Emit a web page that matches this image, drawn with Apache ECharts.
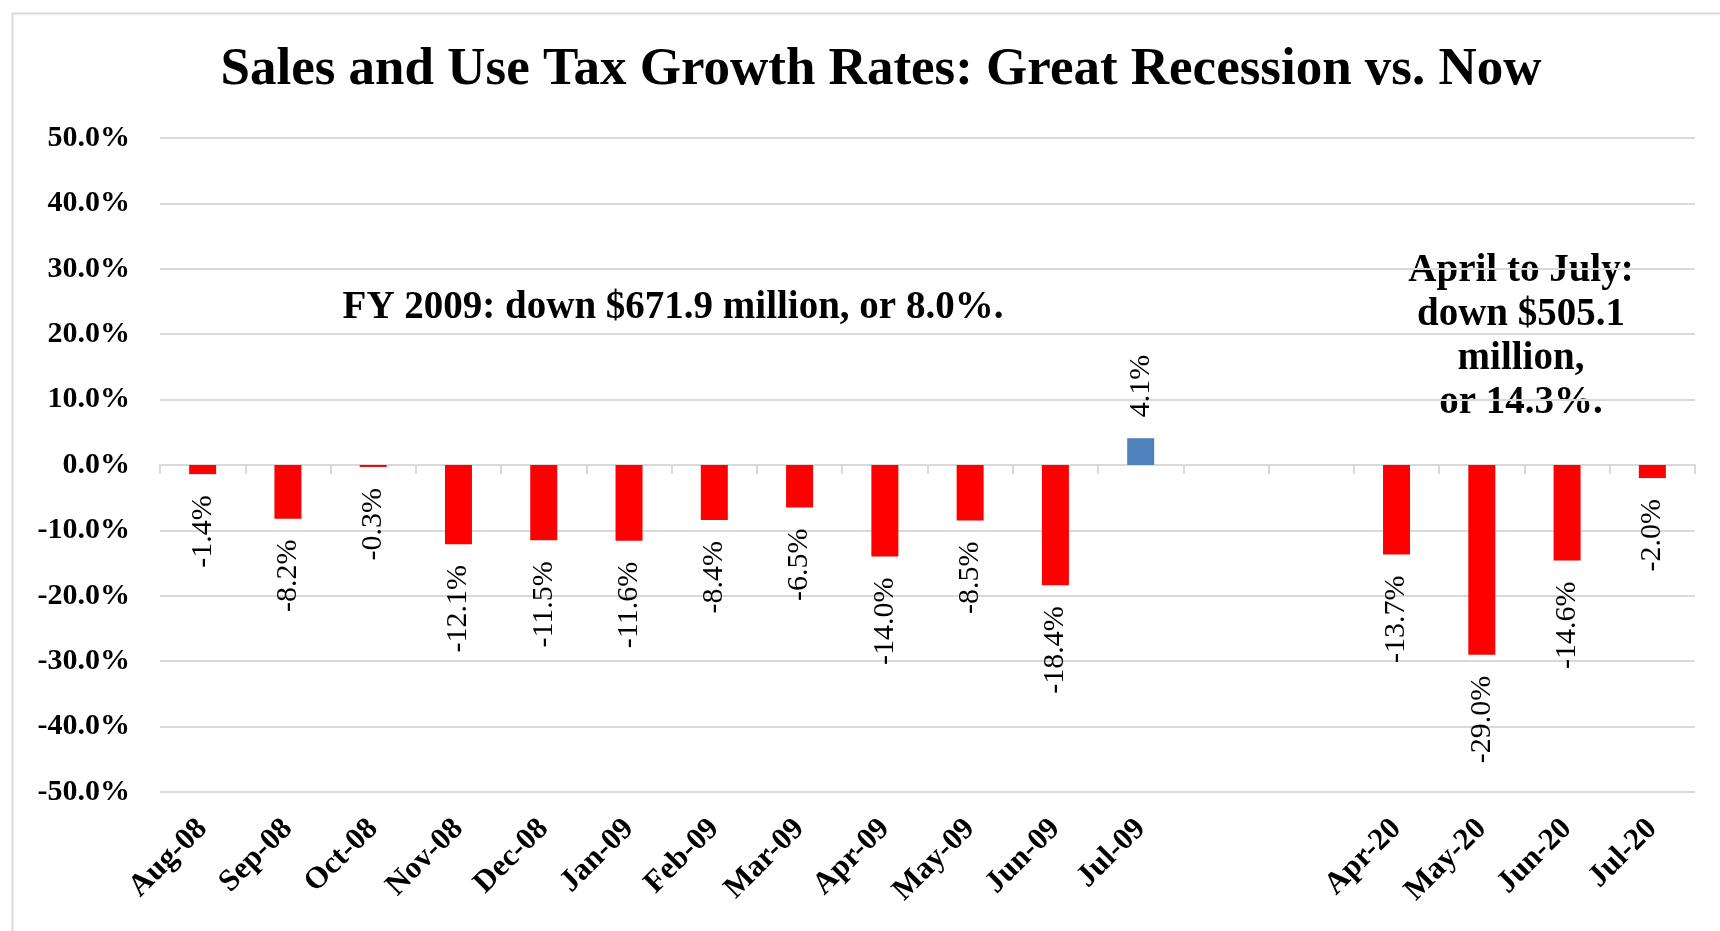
<!DOCTYPE html>
<html>
<head>
<meta charset="utf-8">
<script src="https://cdn.jsdelivr.net/npm/echarts@6/dist/echarts.min.js"></script>
<style>
html,body{margin:0;padding:0;background:#fff;}
#chart{width:1720px;height:931px;}
</style>
</head>
<body>
<div id="chart"></div>
<script>
const categories = ['Aug-08','Sep-08','Oct-08','Nov-08','Dec-08','Jan-09','Feb-09','Mar-09','Apr-09','May-09','Jun-09','Jul-09',' ','  ','Apr-20','May-20','Jun-20','Jul-20'];
const growthRates = [-1.4,-8.2,-0.3,-12.1,-11.5,-11.6,-8.4,-6.5,-14.0,-8.5,-18.4,4.1,null,null,-13.7,-29.0,-14.6,-2.0];
const yTicks = {min:-50, max:50, interval:10};
const titleText = 'Sales and Use Tax Growth Rates: Great Recession vs. Now';
const noteFY2009 = 'FY 2009: down $671.9 million, or 8.0%.';
const noteNow = ['April to July:','down $505.1','million,','or 14.3%.'];

const SERIF = '"Liberation Serif", "DejaVu Serif", serif';
const RED = '#ff0000', BLUE = '#4f81bd', GRID = '#d9d9d9';

const chart = echarts.init(document.getElementById('chart'), null, {renderer:'canvas'});

const seriesData = growthRates.map(v => v === null ? '-' : ({
  value: v,
  label: { align: v >= 0 ? 'left' : 'right' }
}));

chart.setOption({
  backgroundColor: '#ffffff',
  animation: false,
  title: {
    text: titleText,
    left: 876, top: 39, textAlign: 'center',
    textStyle: { fontFamily: SERIF, fontWeight: 'bold', fontSize: 53, color: '#000' }
  },
  grid: { left: 160, right: 25, top: 138, bottom: 139, containLabel: false },
  xAxis: [
    {
      type: 'category', data: categories, position: 'bottom',
      axisLine: { onZero: true, lineStyle: { color: GRID, width: 2 } },
      axisTick: { show: true, length: 9, alignWithLabel: false, lineStyle: { color: GRID, width: 2 } },
      axisLabel: { show: false },
      splitLine: { show: false }
    },
    {
      type: 'category', data: categories, position: 'bottom',
      axisLine: { show: false, onZero: false },
      axisTick: { show: false },
      axisLabel: {
        show: true, rotate: 45, margin: 32, interval: 0,
        fontFamily: SERIF, fontWeight: 'bold', fontSize: 31, color: '#000'
      },
      splitLine: { show: false }
    }
  ],
  yAxis: {
    type: 'value', min: yTicks.min, max: yTicks.max, interval: yTicks.interval,
    axisLine: { show: false }, axisTick: { show: false },
    axisLabel: {
      margin: 30, fontFamily: SERIF, fontWeight: 'bold', fontSize: 30, color: '#000',
      formatter: v => v.toFixed(1) + '%'
    },
    splitLine: { lineStyle: { color: GRID, width: 2 } }
  },
  series: [{
    type: 'bar', xAxisIndex: 0, data: seriesData, barWidth: 27,
    itemStyle: { color: p => (p.value >= 0 ? BLUE : RED) },
    label: {
      show: true, position: 'outside', rotate: 90, distance: 21, verticalAlign: 'middle',
      fontFamily: SERIF, fontSize: 30, color: '#000',
      formatter: p => p.value.toFixed(1) + '%'
    }
  }],
  graphic: [
    { type: 'rect', left: 10, top: 11, z: -10, silent: true,
      shape: { width: 1720, height: 919 },
      style: { fill: 'none', stroke: GRID, lineWidth: 2 } },
    { type: 'text', x: 673, y: 308, silent: true,
      style: { text: noteFY2009, fontFamily: SERIF, fontWeight: 'bold', fontSize: 39, fill: '#000',
               textAlign: 'center', textVerticalAlign: 'middle' } },
    { type: 'text', x: 1521, y: 337, silent: true,
      style: { text: noteNow.join('\n'), fontFamily: SERIF, fontWeight: 'bold', fontSize: 39, fill: '#000',
               lineHeight: 44, textAlign: 'center', textVerticalAlign: 'middle' } }
  ]
});
</script>
</body>
</html>
